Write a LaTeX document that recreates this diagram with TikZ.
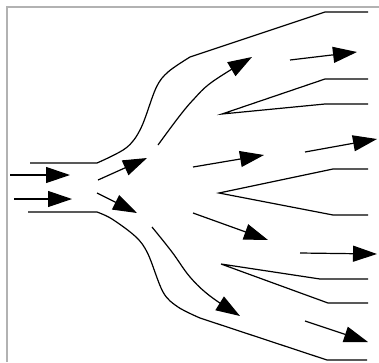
\documentclass[tikz,border=0pt]{standalone}
\usetikzlibrary{arrows.meta}
\begin{document}
\begin{tikzpicture}[
  x=1pt, y=-1pt,
  wall/.style={line width=1.2pt, black},
  flow/.style={line width=1.2pt, -{Triangle[length=24pt,width=16pt]}},
  frame/.style={line width=2pt, gray!60}
]
  \useasboundingbox (0,0) rectangle (379,362);
  \draw[frame] (7,362) -- (7,7) -- (379,7);

  % channel walls
  \coordinate (up0) at (30,163);
  \coordinate (up1) at (97,163);
  \coordinate (up2) at (325,12);
  \coordinate (up3) at (368,12);
  \coordinate (lo0) at (28,212);
  \coordinate (lo1) at (97,212);
  \coordinate (lo2) at (327,360);
  \coordinate (lo3) at (367,360);
  \draw[wall] (up0) -- (up1)
    plot[smooth, tension=0.55] coordinates {(97,163) (126,148) (141,128) (156,88) (168,72) (190,57)}
    -- (up2) -- (up3);
  \draw[wall] (lo0) -- (lo1)
    plot[smooth, tension=0.55] coordinates {(97,212) (112,219) (136,237) (148,254) (163,292) (178,307) (200,318)}
    -- (lo2) -- (lo3);

  % wedges
  \coordinate (w1) at (222,114);
  \coordinate (w2) at (219,193);
  \coordinate (w3) at (221,264);
  \draw[wall] (368,79) -- (325,79) -- (w1) -- (325,104) -- (368,104);
  \draw[wall] (368,169) -- (333,169) -- (w2) -- (333,215) -- (368,215);
  \draw[wall] (368,279) -- (320,279) -- (w3) -- (328,303) -- (368,303);

  % inflow
  \coordinate (in1) at (10,175);
  \coordinate (in2) at (14,199);
  \draw[flow] (in1) -- (70,175);
  \draw[flow] (in2) -- (72,199);

  % streamlines
  \coordinate (a) at (98,180);
  \coordinate (b) at (97,193);
  \draw[flow] (a) -- (147,158);
  \draw[flow] (b) -- (137,213);
  \draw[flow] plot[smooth, tension=0.6] coordinates {(158,145) (178,118) (193,100) (212,82) (252,57)};
  \draw[flow] plot[smooth, tension=0.6] coordinates {(152,227) (172,252) (190,277) (210,296) (240,316)};
  \draw[flow] (193,167) -- (264,155);
  \draw[flow] (193,213) -- (268,240);
  \draw[flow] (290,60) -- (357,52);
  \draw[flow] (305,152) -- (377,139);
  \draw[flow] (300,253) -- (377,254);
  \draw[flow] (305,321) -- (368,342);
\end{tikzpicture}
\end{document}
